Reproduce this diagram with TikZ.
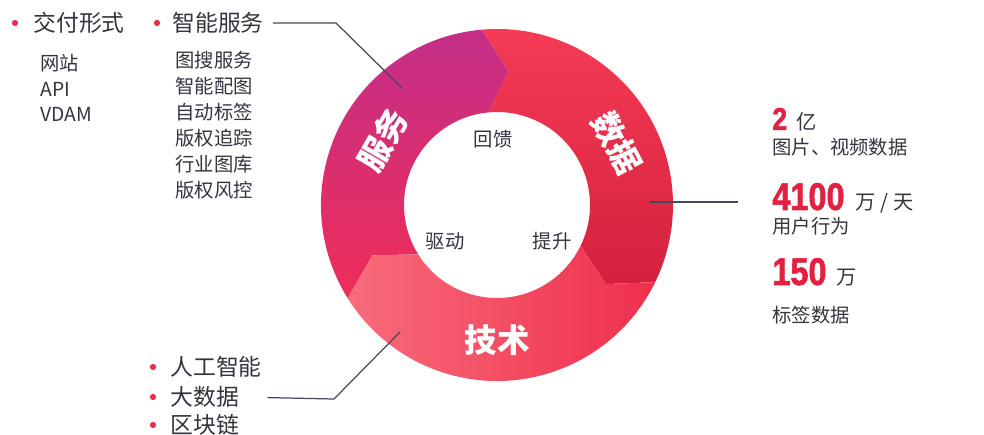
\documentclass[tikz,border=0pt]{standalone}
\usepackage{fontspec}
\setmainfont{Noto Sans CJK SC}
\newfontfamily\numfont[FakeStretch=0.84,BoldFeatures={FakeBold=1.4}]{Liberation Sans}
\usepackage{xcolor}
\usepackage{tikz}
\usetikzlibrary{positioning}
\definecolor{txt}{HTML}{33343F}
\definecolor{dotred}{HTML}{E8314C}
\definecolor{numred}{HTML}{E2203F}
\definecolor{leadgray}{HTML}{454A5A}
\definecolor{svctop}{HTML}{C42E88}
\definecolor{svcbot}{HTML}{EE2E58}
\definecolor{dattop}{HTML}{F63C56}
\definecolor{datbot}{HTML}{D4213E}
\definecolor{techleft}{HTML}{F86C7B}
\definecolor{techright}{HTML}{EF2F4D}
\tikzstyle{head}=[anchor=west,inner sep=0pt,text=txt,font=\fontsize{13}{15}\selectfont]
\tikzstyle{item}=[anchor=west,inner sep=0pt,text=txt,font=\fontsize{11}{13}\selectfont]
\tikzstyle{dot}=[circle,fill=dotred,inner sep=0pt,minimum size=3.6pt]
\tikzstyle{ringlbl}=[text=white,font=\fontsize{18.5}{20}\selectfont\bfseries]
\tikzstyle{inlbl}=[text=txt,font=\fontsize{11}{13}\selectfont]
\tikzstyle{bignum}=[anchor=base west,inner sep=0pt,text=numred,font=\numfont\bfseries\fontsize{22}{22}\selectfont]
\tikzstyle{unit}=[inner sep=0pt,text=txt,font=\fontsize{11.5}{13}\selectfont]
\tikzstyle{lead}=[draw=leadgray,line width=0.7pt]

\begin{document}
\begin{tikzpicture}[x=0.02cm,y=-0.02cm]
        \useasboundingbox (0,0) rectangle (984,435);

        % ring of three arrows
        \begin{scope}[shift={(497,205)},yscale=-1]
          \def\Ro{176} \def\Ri{93} \def\Rm{134.5}
          \shade [top color=svctop,bottom color=svcbot]
            (212:\Ro) arc[start angle=212,end angle=95,radius=\Ro] -- (85:\Rm)
            -- (95:\Ri) arc[start angle=95,end angle=212,radius=\Ri] -- (202:\Rm) -- cycle;
          \shade [top color=dattop,middle color=dattop,bottom color=datbot]
            (95:\Ro) arc[start angle=95,end angle=-26,radius=\Ro] -- (-36:\Rm)
            -- (-26:\Ri) arc[start angle=-26,end angle=95,radius=\Ri] -- (85:\Rm) -- cycle;
          \shade [left color=techleft,right color=techright]
            (-26:\Ro) arc[start angle=-26,end angle=-148,radius=\Ro] -- (-158:\Rm)
            -- (-148:\Ri) arc[start angle=-148,end angle=-26,radius=\Ri] -- (-36:\Rm) -- cycle;
        \end{scope}

        \node at (383,140) [ringlbl,rotate=60]  (fuwu) {服务};
        \node at (617,143) [ringlbl,rotate=-62] (shuju) {数据};
        \node at (497,340) [ringlbl]            (jishu) {技术};

        \node at (493,139) [inlbl] (huikui) {回馈};
        \node at (445,241) [inlbl] (qudong) {驱动};
        \node at (552,241) [inlbl] (tisheng) {提升};

        % delivery
        \node at (15,23) [dot] (b1) {};
        \node at (33,23) [head] (deliv) {交付形式};
        \node at (40,63)  [item] (web) {网站};
        \node at (40,89)  [item] (api) {API};
        \node at (40,114) [item] (vdam) {VDAM};

        % smart services
        \node at (157,23) [dot] (b2) {};
        \node at (172,23) [head] (smart) {智能服务};
        \node at (175,60)  [item] (s1) {图搜服务};
        \node at (175,86)  [item] (s2) {智能配图};
        \node at (175,112) [item] (s3) {自动标签};
        \node at (175,138) [item] (s4) {版权追踪};
        \node at (175,164) [item] (s5) {行业图库};
        \node at (175,190) [item] (s6) {版权风控};

        % technology
        \node at (153,367) [dot] (b3) {};
        \node at (170,367) [head] (ai) {人工智能};
        \node at (153,397) [dot] (b4) {};
        \node at (170,397) [head] (bigdata) {大数据};
        \node at (153,425) [dot] (b5) {};
        \node at (170,425) [head] (chain) {区块链};

        % data figures
        \node at (772,130) [bignum,font=\numfont\bfseries\fontsize{18}{18}\selectfont] (n2) {2};
        \node [unit,base right=5pt of n2] (yi) {亿};
        \node at (772,147) [item] (pics) {图片、视频数据};
        \node at (772,210) [bignum] (n4100) {4100};
        \node [unit,base right=6pt of n4100] (perday) {万 / 天};
        \node at (772,226) [item] (users) {用户行为};
        \node at (772,285) [bignum] (n150) {150};
        \node [unit,base right=5pt of n150] (wan) {万};
        \node at (772,315) [item] (tags) {标签数据};

        % leader lines
        \coordinate (svcbend) at (336,23);
        \coordinate (svcpin) at (402,88);
        \coordinate (techbend) at (334,399);
        \coordinate (techpin) at (400,332);
        \coordinate (datpin) at (650,202);
        \coordinate (datend) at (738,202);
        \draw [lead,shorten <=5pt] (smart.east) -- (svcbend) -- (svcpin);
        \draw [lead,shorten <=16pt] (bigdata.east) -- (techbend) -- (techpin);
        \draw [lead] (datpin) -- (datend);
\end{tikzpicture}
\end{document}
